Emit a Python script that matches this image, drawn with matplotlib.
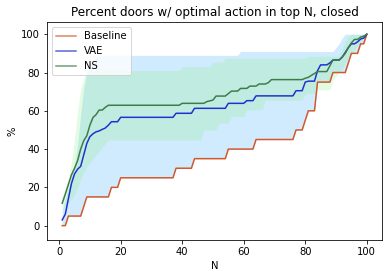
import numpy as np
import matplotlib
matplotlib.use('Agg')
import matplotlib.pyplot as plt
from matplotlib.lines import Line2D

# valores, N = 1..100
n_top = list(range(1, 101))

baseline = [0, 0, 5, 5, 5, 5, 5, 10, 15, 15,
            15, 15, 15, 15, 15, 15, 20, 20, 20, 25,
            25, 25, 25, 25, 25, 25, 25, 25, 25, 25,
            25, 25, 25, 25, 25, 25, 25, 30, 30, 30,
            30, 30, 30, 35, 35, 35, 35, 35, 35, 35,
            35, 35, 35, 35, 40, 40, 40, 40, 40, 40,
            40, 40, 40, 45, 45, 45, 45, 45, 45, 45,
            45, 45, 45, 45, 45, 45, 50, 50, 50, 55,
            60, 60, 60, 75, 75, 75, 75, 75, 80, 80,
            80, 80, 80, 85, 90, 90, 90, 95, 95, 100]

vae = [3, 6, 14, 22, 27, 29.5, 31, 37, 43, 46.5,
       48, 49, 49.5, 50.3, 51, 52.5, 54.3, 54.3, 54.3, 56.6,
       56.6, 56.6, 56.6, 56.6, 56.6, 56.6, 56.6, 56.6, 56.6, 56.6,
       56.6, 56.6, 56.6, 56.6, 56.6, 56.6, 56.6, 58.7, 58.7, 58.7,
       58.7, 58.7, 58.7, 61.3, 61.3, 61.3, 61.3, 61.3, 61.3, 61.3,
       61.3, 61.3, 61.3, 61.3, 63.9, 63.9, 63.9, 63.9, 63.9, 63.9,
       65.3, 65.3, 65.3, 67.8, 67.8, 67.8, 67.8, 67.8, 67.8, 67.8,
       67.8, 67.8, 67.8, 67.8, 67.8, 67.8, 70.5, 70.5, 70.5, 75,
       75.5, 75.5, 75.5, 81, 84, 84, 84, 85, 86.5, 86.5,
       86.5, 88, 90.5, 93, 95, 95, 96, 97.5, 98, 100]

ns = [11.7, 16.5, 21.5, 26.5, 30, 34, 40, 44.4, 47, 52.5,
      56.5, 58, 60.4, 60.4, 61.8, 62.9, 62.9, 62.9, 62.9, 62.9,
      62.9, 62.9, 62.9, 62.9, 62.9, 62.9, 62.9, 62.9, 62.9, 62.9,
      62.9, 62.9, 62.9, 62.9, 62.9, 62.9, 62.9, 62.9, 62.9, 63.9,
      63.9, 63.9, 63.9, 63.9, 63.9, 63.9, 63.9, 64.8, 65.2, 65.6,
      67.7, 67.7, 67.7, 67.7, 69, 70.3, 70.3, 70.3, 71.7, 71.7,
      71.7, 72.9, 72.9, 72.9, 74, 74, 74, 74.7, 76.3, 76.3,
      76.3, 76.3, 76.3, 76.3, 76.3, 76.3, 76.3, 76.3, 76.3, 77,
      77.5, 78.5, 79.5, 80.5, 80.5, 80.5, 80.5, 83.5, 86.5, 86.5,
      86.5, 88, 90, 93, 95.5, 97.3, 97.3, 98.5, 99, 100]

# bandas (min / max)
vae_lo = [0, 0, 5, 5, 5, 5, 5, 10, 15, 15,
          15, 15, 15, 15, 15, 15, 20, 20, 20, 25,
          25, 25, 25, 25, 25, 25, 25, 25, 25, 25,
          25, 25, 25, 25, 25, 25, 25, 30, 30, 30,
          30, 30, 30, 35, 35, 35, 35, 35, 35, 35,
          35, 35, 35, 35, 40, 40, 40, 40, 40, 40,
          40, 40, 40, 45, 45, 45, 45, 45, 45, 45,
          45, 45, 45, 45, 45, 45, 50, 50, 50, 55,
          60, 60, 60, 75, 75, 75, 75, 75, 80, 80,
          80, 80, 80, 85, 90, 90, 90, 95, 95, 100]

vae_hi = [8, 14, 20, 26, 32, 42, 58, 72, 80, 84,
          86, 88, 89, 89, 89, 89, 89, 89, 89, 89,
          89, 89, 89, 89, 89, 89, 89, 89, 89, 89,
          89, 89, 89, 89, 89, 89, 89, 89, 89, 89,
          89, 89, 89, 89, 89, 89, 89, 89, 89, 89,
          89, 89, 89, 89, 89, 89, 89, 89, 91, 91,
          91, 91, 91, 91, 91, 91, 91, 91, 91, 91,
          91, 91, 91, 91, 91, 91, 91, 91, 91, 91,
          91, 91, 91, 91, 91, 91, 91, 91, 91, 93,
          95, 98, 100, 100, 100, 100, 100, 100, 100, 100]

ns_lo = [8, 10, 12, 14, 16, 20, 24, 28, 31, 33,
         35, 37, 39, 41, 43, 44.8, 44.8, 44.8, 44.8, 44.8,
         44.8, 44.8, 44.8, 44.8, 44.8, 44.8, 44.8, 44.8, 44.8, 44.8,
         44.8, 44.8, 44.8, 44.8, 44.8, 44.8, 44.8, 44.8, 44.8, 44.8,
         44.8, 44.8, 44.8, 44.8, 44.8, 44.8, 50, 50, 50, 50,
         50, 53.5, 53.5, 53.5, 53.5, 57, 57, 57, 57, 57,
         60.5, 60.5, 60.5, 60.5, 60.5, 60.5, 65.5, 65.5, 65.5, 65.5,
         65.5, 65.5, 65.5, 65.5, 65.5, 65.5, 65.5, 65.5, 65.5, 69,
         69, 69, 69, 71, 71, 71, 71, 71, 76, 78,
         80, 82, 85, 88, 90, 92, 94, 96, 98, 100]

ns_hi = [15, 20, 25, 33, 45, 60, 71, 77, 80, 81,
         81, 81, 81, 81, 81, 81, 81, 81, 81, 81,
         81, 81, 81, 81, 81, 81, 81, 81, 81, 81,
         81, 81, 81, 81, 81, 81, 81, 81, 81, 83,
         83, 83, 83, 83, 83, 83, 83, 83, 83, 85.5,
         85.5, 85.5, 85.5, 87.5, 87.5, 87.5, 87.5, 87.5, 87.5, 87.5,
         87.5, 87.5, 87.5, 87.5, 87.5, 87.5, 87.5, 87.5, 87.5, 87.5,
         87.5, 87.5, 87.5, 87.5, 87.5, 87.5, 87.5, 87.5, 87.5, 87.5,
         88.5, 88.5, 88.5, 88.5, 88.5, 88.5, 88.5, 88.5, 88.5, 88.5,
         88.5, 92, 96, 99, 100, 100, 100, 100, 100, 100]

c_base = '#d4572a'
c_vae = '#1f2fd0'
c_ns = '#3d7c47'

fig = plt.figure(figsize=(389 / 72, 278 / 72), dpi=72)
ax = fig.add_axes([47 / 389, 38 / 278, 335 / 389, 218 / 278])

ax.fill_between(n_top, vae_lo, vae_hi, color='lightskyblue', alpha=0.4, linewidth=0)
ax.fill_between(n_top, ns_lo, ns_hi, color='lightgreen', alpha=0.25, linewidth=0)

ax.plot(n_top, baseline, color=c_base, lw=1.5)
ax.plot(n_top, vae, color=c_vae, lw=1.5)
ax.plot(n_top, ns, color=c_ns, lw=1.5)

handles = [Line2D([], [], color=c, lw=1.5, alpha=0.75) for c in (c_base, c_vae, c_ns)]
ax.legend(handles, ['Baseline', 'VAE', 'NS'], loc='upper left')

ax.set_xlim(-3.95, 104.95)
ax.set_ylim(-7.5, 106.4)
ax.set_xticks([0, 20, 40, 60, 80, 100])
ax.set_yticks([0, 20, 40, 60, 80, 100])
ax.set_xlabel('N')
ax.set_ylabel('%')
ax.set_title('Percent doors w/ optimal action in top N, closed')

fig.savefig('out.png', dpi=72)
